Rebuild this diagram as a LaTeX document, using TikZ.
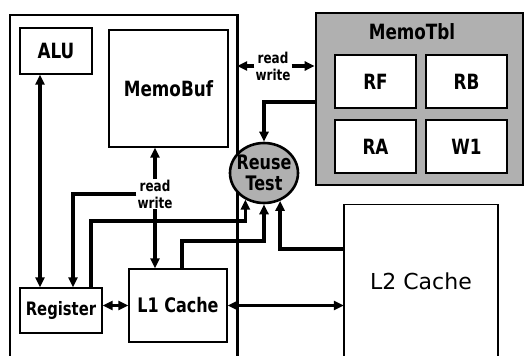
\documentclass[tikz,border=0pt]{standalone}
\usepackage{fontspec}
\setmainfont{DejaVu Sans}[FakeStretch=0.8]
\newfontfamily\widefont{DejaVu Sans}
\usetikzlibrary{arrows.meta,shapes.geometric}
\newcommand{\fsz}[1]{\fontsize{#1}{#1}\selectfont\bfseries}
\tikzset{
  box/.style={draw, line width=1.4pt, fill=white, inner sep=0pt},
  frame/.style={line width=2.6pt},
  hatch/.style={fill=gray!62},
  arr/.style={line width=3.5pt, -{Triangle[length=10pt,width=9pt]}},
  dbl/.style={line width=3.5pt, {Triangle[length=10pt,width=9pt]}-{Triangle[length=10pt,width=9pt]}},
  rwlab/.style={fill=white, inner sep=1pt, align=center, font=\fontsize{15}{17}\selectfont\bfseries, text depth=0pt},
}
\begin{document}
\begin{tikzpicture}[x=1pt,y=-1pt]
\useasboundingbox (0,0) rectangle (525,356);
% processor frame (open at the bottom)
\node[minimum width=227pt, minimum height=341pt, inner sep=0pt] (cpu) at (123.5,185.5) {};
\draw[frame] (cpu.south west) -- (cpu.north west) -- (cpu.north east) -- (cpu.south east);
% L2 cache (open at the bottom)
\node[minimum width=154pt, minimum height=153pt, inner sep=0pt, font=\widefont\fontsize{22}{22}\selectfont] (L2) at (421,281) {L2 Cache};
\draw[line width=1.6pt] (L2.south west) -- (L2.north west) -- (L2.north east) -- (L2.south east);
% boxes
\node[box, minimum width=72pt, minimum height=46pt, font=\fsz{21}] (ALU) at (56,51) {ALU};
\node[box, minimum width=119pt, minimum height=117pt, font=\fsz{21}] (MemoBuf) at (168.5,88.5) {MemoBuf};
\node[box, minimum width=82pt, minimum height=45pt, font=\fsz{18.5}] (Register) at (61,310.5) {Register};
\node[box, minimum width=98pt, minimum height=73pt, font=\fsz{20}] (L1) at (178,305.5) {L1 Cache};
% MemoTbl
\node[draw, hatch, line width=2.6pt, minimum width=207pt, minimum height=172pt, inner sep=0pt] (MemoTbl) at (419.5,99) {};
\node[font=\fsz{21}, inner sep=0pt] (tbltitle) at (412,32) {MemoTbl};
\node[box, minimum width=81pt, minimum height=53pt, font=\fsz{21}] (RF) at (375.5,81.5) {RF};
\node[box, minimum width=81pt, minimum height=53pt, font=\fsz{21}] (RB) at (466.5,81.5) {RB};
\node[box, minimum width=81pt, minimum height=53pt, font=\fsz{21}] (RA) at (375.5,146.5) {RA};
\node[box, minimum width=81pt, minimum height=53pt, font=\fsz{21}] (W1) at (466.5,146.5) {W1};
% Reuse test
\node[ellipse, draw, hatch, line width=2.6pt, minimum width=68pt, minimum height=60pt, inner sep=0pt] (Reuse) at (264,173) {};
\node[align=center, inner sep=0pt, font=\fontsize{20}{21}\selectfont\bfseries] (reusetxt) at (Reuse.center) {Reuse\\Test};
% labels
\node[rwlab] (rw1) at (273,66) {read\\write};
\node[rwlab] (rw2) at (155,194) {read\\write};
% connectors
\draw[dbl] (ALU.south -| 40,0) -- (Register.north -| 40,0);
\draw[arr] (rw2.north) -- (rw2.north |- MemoBuf.south);
\draw[arr] (rw2.south) -- (rw2.south |- L1.north);
\draw[arr] (rw2.west) -| (73,0 |- Register.north);
\draw[arr] (rw1.west) -- (rw1.west -| cpu.east);
\draw[arr] (rw1.east) -- (rw1.east -| MemoTbl.west);
\draw[arr] (MemoTbl.west |- 0,102) -| (Reuse.north);
\draw[arr] (Register.north -| 91,0) |- (Reuse.235 |- 0,221) -- (Reuse.235);
\draw[arr] (L1.north -| 182,0) |- (Reuse.south |- 0,241) -- (Reuse.south);
\draw[arr] (L2.west |- 0,249) -| (Reuse.300);
\draw[dbl] (Register.east |- L1.west) -- (L1.west);
\draw[dbl] (L1.east) -- (L1.east -| L2.west);
\end{tikzpicture}
\end{document}
